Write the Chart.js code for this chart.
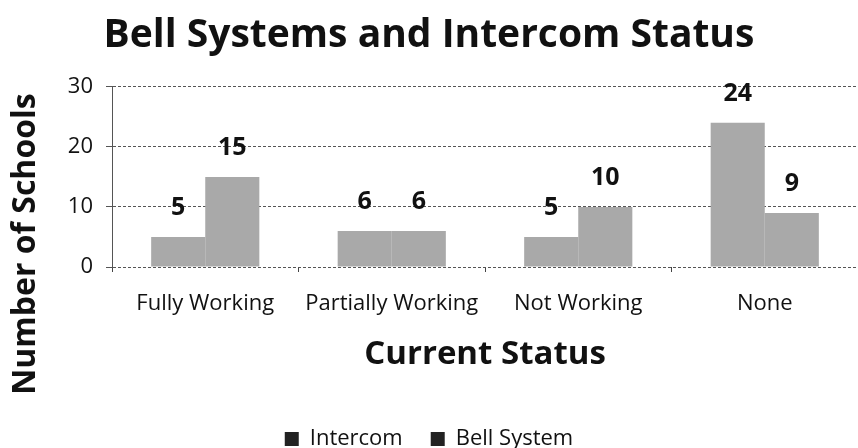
<!DOCTYPE html>
<html>
<head>
<meta charset="utf-8">
<script src="https://cdn.jsdelivr.net/npm/chart.js@4/dist/chart.umd.min.js"></script>
<style>
    body { margin: 0; background: #fff; }
    #wrap { width: 858px; height: 448px; }
</style>
</head>
<body>
<div id="wrap"><canvas id="chart1" width="858" height="448"></canvas></div>
<script>
const categories = ['Fully Working', 'Partially Working', 'Not Working', 'None'];
const intercom = [5, 6, 5, 24];
const bellSystem = [15, 6, 10, 9];
const yTicks = [0, 10, 20, 30];

const FONT = "'Open Sans', Lato, sans-serif";
const BAR_GRAY = '#a9a9a9';

// value labels above each bar
const valueLabels = {
    id: 'valueLabels',
    afterDatasetsDraw(chart) {
        const ctx = chart.ctx;
        ctx.save();
        ctx.font = 'bold 25px ' + FONT;
        ctx.fillStyle = '#111';
        ctx.textAlign = 'center';
        ctx.textBaseline = 'middle';
        chart.data.datasets.forEach((ds, i) => {
            chart.getDatasetMeta(i).data.forEach((bar, j) => {
                ctx.fillText(ds.data[j], bar.x, bar.y - 29);
            });
        });
        ctx.restore();
    }
};

// y axis title sits lower than the plot centre in the original
const yTitle = {
    id: 'yTitle',
    afterDraw(chart) {
        const ctx = chart.ctx;
        ctx.save();
        ctx.translate(26, 244);
        ctx.rotate(-Math.PI / 2);
        ctx.font = 'bold 32px ' + FONT;
        ctx.fillStyle = '#111';
        ctx.textAlign = 'center';
        ctx.textBaseline = 'middle';
        ctx.fillText('Number of Schools', 0, 0);
        ctx.restore();
    }
};

const ctx1 = document.getElementById('chart1');
const chart1 = new Chart(ctx1, {
    type: 'bar',
    data: {
        labels: categories,
        datasets: [{
            label: 'Intercom',
            data: intercom,
            backgroundColor: BAR_GRAY,
            borderWidth: 0
        }, {
            label: 'Bell System',
            data: bellSystem,
            backgroundColor: BAR_GRAY,
            borderWidth: 0
        }]
    },
    options: {
        responsive: false,
        animation: false,
        layout: { padding: { top: 0, left: 0, right: 0, bottom: -12 } },
        datasets: {
            bar: { categoryPercentage: 0.58, barPercentage: 1.0 }
        },
        plugins: {
            tooltip: { enabled: false },
            title: {
                display: true,
                text: 'Bell Systems and Intercom Status',
                color: '#111',
                font: { family: FONT, size: 39, weight: 'bold' },
                padding: { top: 12, bottom: 28 }
            },
            legend: {
                position: 'bottom',
                labels: {
                    color: '#111',
                    font: { family: FONT, size: 22 },
                    boxWidth: 14,
                    boxHeight: 14,
                    padding: 28,
                    generateLabels(chart) {
                        return chart.data.datasets.map((ds, i) => ({
                            text: ds.label,
                            fillStyle: '#222',
                            strokeStyle: '#222',
                            lineWidth: 0,
                            datasetIndex: i,
                            fontColor: '#111'
                        }));
                    }
                }
            }
        },
        scales: {
            x: {
                afterFit(s) { s.height = 193 - s.chart.legend.height; },
                grid: {
                    display: true,
                    drawOnChartArea: false,
                    drawTicks: true,
                    tickLength: 5,
                    color: '#444'
                },
                border: { display: false },
                ticks: {
                    color: '#111',
                    font: { family: FONT, size: 22 },
                    padding: 19,
                    maxRotation: 0
                },
                title: {
                    display: true,
                    text: 'Current Status',
                    color: '#111',
                    font: { family: FONT, size: 33, weight: 'bold' },
                    padding: { top: 10, bottom: 26 }
                }
            },
            y: {
                min: 0,
                max: 30,
                afterFit(s) { s.width = 112; },
                afterBuildTicks(s) { s.ticks = yTicks.map(v => ({ value: v })); },
                grid: {
                    color: '#555',
                    lineWidth: 1,
                    tickLength: 6
                },
                border: { display: true, color: '#555', dash: [3, 2] },
                ticks: {
                    color: '#111',
                    font: { family: FONT, size: 22 },
                    padding: 13
                }
            }
        }
    },
    plugins: [valueLabels, yTitle]
});
</script>
</body>
</html>
